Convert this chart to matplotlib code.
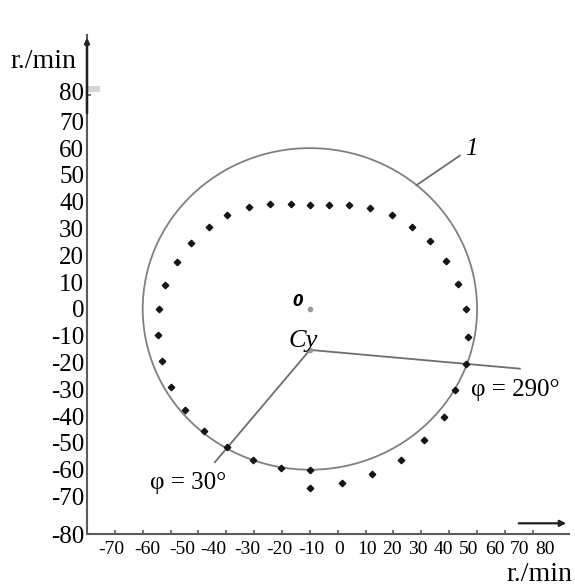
import matplotlib.pyplot as plt
from matplotlib.patches import Circle, Rectangle
from matplotlib.ticker import FixedLocator

plt.rcParams['font.family'] = ['Liberation Serif', 'DejaVu Serif']

# measured rotational speed components, r./min
speed_x = [0, 11.4, 22.4, 32.6, 40.9, 48.1, 52.0, 56.0, 56.8, 56.2, 53.2, 48.8, 43.1,
           36.5, 29.5, 21.5, 14.1, 6.8, 0, -6.8, -14.4, -21.8, -29.6, -36.3, -42.8,
           -47.8, -52.0, -54.2, -54.5, -53.0, -50.0, -44.8, -37.9, -29.8, -20.4, -10.2, 0]
speed_y = [-66.7, -65.1, -61.7, -56.3, -49.0, -40.4, -30.4, -20.4, -10.3, 0, 9.4, 17.9, 25.2,
           30.7, 34.9, 37.5, 38.9, 38.9, 38.9, 39.2, 39.2, 38.0, 34.9, 30.7, 24.6,
           17.6, 9.1, 0, -9.7, -19.5, -29.2, -37.7, -45.4, -51.7, -56.3, -59.2, -60.2]

# limit circle (curve 1)
circle_center = (0, 0)
circle_radius = 60

# unbalance point and the two phase rays
cy_point = (0, -15.3)
ray_30_end = (-34.1, -57.2)
ray_290_end = (75.4, -22.3)

# axis marks and their printed labels
tick_marks = list(range(-70, 90, 10))
x_labels = ['-70', '-60', '-50', '-40', '-30', '-20', '-10', '0',
            '10', '20', '30', '40', '50', '60', '70', '80']
x_label_pos = [-71.3, -58.5, -45.9, -34.8, -22.6, -10.8, 0.7, 10.6,
               20.5, 29.5, 38.9, 48.0, 56.8, 66.4, 75.4, 84.3]
y_labels = ['-80', '-70', '-60', '-50', '-40', '-30', '-20', '-10', '0',
            '10', '20', '30', '40', '50', '60', '70', '80']
y_label_pos = [-84, -70, -60, -50, -40, -30, -20, -10, 0,
               10, 20, 30, 40, 50, 60, 70, 81]

fig = plt.figure(figsize=(5.75, 5.86), dpi=100)
ax = fig.add_axes([0.1513, 0.0887, 0.8383, 0.8515])
ax.set_xlim(-80, 93)
ax.set_ylim(-80, 102.2)

gray = '#6e6e6e'
for side in ('top', 'right'):
    ax.spines[side].set_visible(False)
for side in ('left', 'bottom'):
    ax.spines[side].set_color('#5a5a5a')
    ax.spines[side].set_linewidth(1.5)

# tick marks on a regular grid, labels where they are printed
ax.xaxis.set_minor_locator(FixedLocator(tick_marks))
ax.yaxis.set_minor_locator(FixedLocator(tick_marks))
ax.set_xticks(x_label_pos, x_labels)
ax.set_yticks(y_label_pos, y_labels)
ax.tick_params(which='major', length=0)
ax.tick_params(axis='x', which='major', labelsize=14, pad=5)
ax.tick_params(axis='y', which='major', labelsize=18, pad=2)
ax.tick_params(which='minor', direction='in', length=3, width=1.2, color='#5a5a5a')

# axis arrows
ax.annotate('', xy=(-80, 102.2), xytext=(-80, 72),
            arrowprops=dict(arrowstyle='-|>', color='#222222', lw=1.8, mutation_scale=7),
            annotation_clip=False)
ax.annotate('', xy=(93, -80), xytext=(74, -80),
            arrowprops=dict(arrowstyle='-|>', color='#222222', lw=1.6, mutation_scale=9),
            annotation_clip=False)
ax.add_patch(Rectangle((-80, 81), 4.5, 2, color='#d6d6d6', lw=0, clip_on=False))

ax.add_patch(Circle(circle_center, circle_radius, fill=False, ec='#808080', lw=1.3))

ax.plot([cy_point[0], ray_30_end[0]], [cy_point[1], ray_30_end[1]], color=gray, lw=1.3)
ax.plot([cy_point[0], ray_290_end[0]], [cy_point[1], ray_290_end[1]], color=gray, lw=1.3)
ax.plot(*cy_point, 'o', color='#999999', ms=3)
ax.plot(*circle_center, 'o', color='#999999', ms=3)

ax.plot(speed_x, speed_y, 'D', color='#151515', ms=3.3, ls='none')

# leader to curve 1
ax.plot([38.3, 53.8], [46.2, 57.2], color=gray, lw=1.3)
ax.text(58.0, 59.6, '1', fontsize=18, style='italic', ha='center', va='center')

ax.text(-2.5, -11.8, 'Cy', fontsize=19, style='italic', ha='center', va='center')
ax.text(-4.3, 2.6, '0', fontsize=11, style='italic', weight='bold',
        family='DejaVu Sans', ha='center', va='center')
ax.text(-43.8, -64.9, 'φ = 30°', fontsize=18, ha='center', va='center')
ax.text(73.6, -30.3, 'φ = 290°', fontsize=18, ha='center', va='center')

ax.text(-83.6, 89.8, 'r./min', fontsize=20, ha='right', va='baseline')
ax.text(94.4, -101.4, 'r./min', fontsize=20, ha='right', va='baseline')

fig.savefig('out.png', dpi=100)
